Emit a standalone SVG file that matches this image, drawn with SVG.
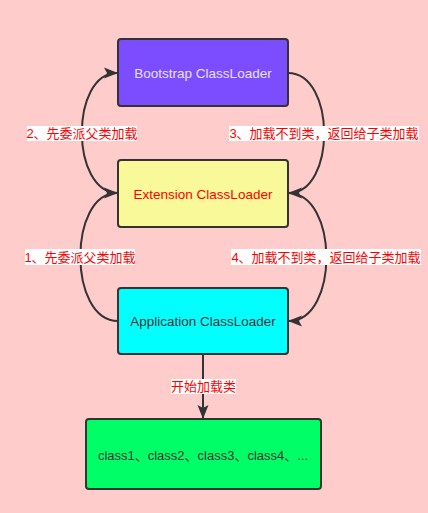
<svg xmlns="http://www.w3.org/2000/svg" width="428" height="513" viewBox="0 0 428 513">
<style>
.box{stroke:#333;stroke-width:2}
.nt{font-family:"Liberation Sans","Noto Sans CJK SC",sans-serif;font-size:13.5px;text-anchor:middle;dominant-baseline:central}
.lbl{font-family:"Liberation Sans","Noto Sans CJK SC",sans-serif;font-size:13px;fill:#ff0000;text-anchor:middle;dominant-baseline:central}
.lb{fill:#fff}
.c{fill:none;stroke:#333;stroke-width:2}
</style>
<defs>
<marker id="ah" viewBox="0 0 14 11" refX="13" refY="5.5" markerWidth="14" markerHeight="11" markerUnits="userSpaceOnUse" orient="auto" overflow="visible">
<path d="M0,0 L14,5.5 L0,11 L3,5.5 z" fill="#333"/>
</marker>
</defs>
<rect width="428" height="513" fill="#ffcccc"/>
<g id="connectors">
<path class="c" d="M118,193 C70,193 70,73 117,73" marker-end="url(#ah)"/>
<path class="c" d="M288,73 C336,73 336,193 289,193" marker-end="url(#ah)"/>
<path class="c" d="M118,321 C68,321 68,193 117,193" marker-end="url(#ah)"/>
<path class="c" d="M288,193 C339,193 339,321 289,321" marker-end="url(#ah)"/>
<path class="c" d="M203,355 L203,418" marker-end="url(#ah)"/>
<rect class="lb" x="27" y="126" width="110" height="15"/>
<text class="lbl" x="82" y="133.5">2、先委派父类加载</text>
<rect class="lb" x="229" y="126" width="190" height="15"/>
<text class="lbl" x="324" y="133.5">3、加载不到类，返回给子类加载</text>
<rect class="lb" x="25" y="249" width="110" height="16"/>
<text class="lbl" x="80" y="257">1、先委派父类加载</text>
<rect class="lb" x="231" y="249" width="190" height="16"/>
<text class="lbl" x="326" y="257">4、加载不到类，返回给子类加载</text>
<rect class="lb" x="171" y="379" width="65" height="15"/>
<text class="lbl" x="203.5" y="386.5">开始加载类</text>
</g>
<g id="bootstrap">
<rect class="box" x="118" y="39" width="170" height="67" rx="3" fill="#7c4dff"/>
<text class="nt" x="203" y="73" fill="#e8e0ff">Bootstrap ClassLoader</text>
</g>
<g id="extension">
<rect class="box" x="118" y="160" width="170" height="67" rx="3" fill="#f9f99a"/>
<text class="nt" x="203" y="194" fill="#ff0000">Extension ClassLoader</text>
</g>
<g id="application">
<rect class="box" x="118" y="288" width="170" height="66" rx="3" fill="#00ffff"/>
<text class="nt" x="203" y="321" fill="#333">Application ClassLoader</text>
</g>
<g id="classes">
<rect class="box" x="86" y="419" width="235" height="70" rx="3" fill="#00ff66"/>
<text class="nt" x="203" y="455" fill="#333" style="font-size:13px">class1、class2、class3、class4、...</text>
</g>
</svg>
